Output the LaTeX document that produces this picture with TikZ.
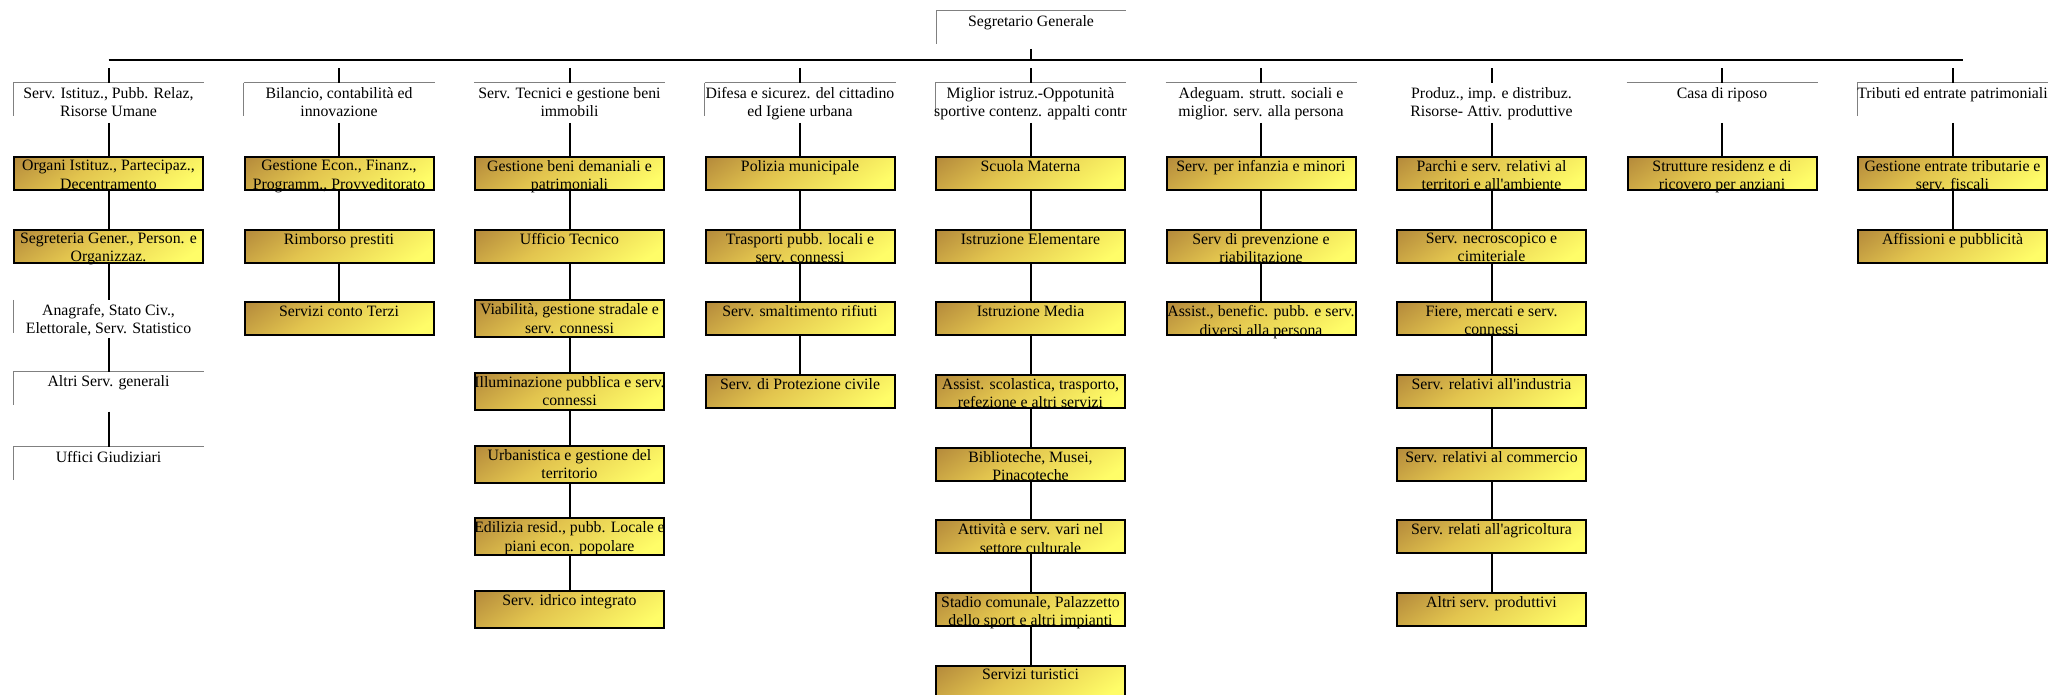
\documentclass[tikz,border=0pt]{standalone}
\usepackage{fontspec}
\setmainfont{Liberation Serif}
\usetikzlibrary{positioning}
\definecolor{boxbrown}{RGB}{154,104,48}
\definecolor{boxgold}{RGB}{226,196,78}
\definecolor{boxyellow}{RGB}{255,253,104}
\pgfdeclareverticalshading{boxgrad}{100bp}{color(0bp)=(boxyellow); color(22bp)=(boxyellow); color(58bp)=(boxgold); color(100bp)=(boxbrown)}

\begin{document}
\begin{tikzpicture}[x=1pt,y=1pt,line width=2pt,on grid,node distance=72.67pt and 230.5pt,
                    font=\fontsize{15.8}{18.2}\selectfont]
  \tikzstyle{ybox}=[draw=black,shade,shading=boxgrad,shading angle=35,
                    minimum width=189pt,minimum height=33pt,inner sep=0pt]
  \tikzstyle{tall}=[minimum height=37pt]
  \tikzstyle{wbox}=[minimum width=189pt,minimum height=38pt,inner sep=0pt]
  \tikzstyle{hline}=[draw=gray,line width=1pt]
  \tikzstyle{topline}=[append after command={\pgfextra{\let\hdnode\tikzlastnode}
                        (\hdnode.north west) edge[hline] (\hdnode.north east)}]
  \tikzstyle{leftline}=[append after command={\pgfextra{\let\hdnode\tikzlastnode}
                        (\hdnode.north west) edge[hline] ([yshift=-33pt]\hdnode.north west)}]
  \tikzstyle{txt}=[anchor=north,yshift=-3.5pt,inner sep=0pt,align=center]

  \useasboundingbox (0,0) rectangle (2054,694);

  % top of the chart
  \node[wbox,topline,leftline,minimum width=188pt,minimum height=36pt,
        label={[txt]north:Segretario Generale}] (S) at (1031,664) {};
  \coordinate (barL) at (108.5,634);
  \coordinate (barR) at (1963,634);
  \coordinate (stub) at (0,626);

  % areas
  \node[wbox,topline,leftline,label={[txt]north:Serv. Istituz., Pubb. Relaz,\\Risorse Umane}]
        (A) at (108.5,591) {};
  \node[wbox,topline,leftline,label={[txt]north:Bilancio, contabilità ed\\innovazione}]
        (B) [right=of A] {};
  \node[wbox,topline,label={[txt]north:Serv. Tecnici e gestione beni\\immobili}]
        (C) [right=of B] {};
  \node[wbox,topline,leftline,label={[txt]north:Difesa e sicurez. del cittadino\\ed Igiene urbana}]
        (D) [right=of C] {};
  \node[wbox,topline,leftline,label={[txt]north:Miglior istruz.-Oppotunità\\sportive contenz. appalti contr}]
        (E) [right=of D] {};
  \node[wbox,topline,label={[txt]north:Adeguam. strutt. sociali e\\miglior. serv. alla persona}]
        (F) [right=of E] {};
  \node[wbox,label={[txt]north:Produz., imp. e distribuz.\\Risorse- Attiv. produttive}]
        (G) [right=of F] {};
  \node[wbox,topline,label={[txt]north:Casa di riposo}]
        (H) [right=of G] {};
  \node[wbox,topline,leftline,label={[txt]north:Tributi ed entrate patrimoniali}]
        (I) [right=of H] {};

  % column 1
  \node[ybox,label={[txt]north:Organi Istituz., Partecipaz.,\\Decentramento}]
        (AA) [below=70.5pt of A] {};
  \node[ybox,label={[txt]north:Segreteria Gener., Person. e\\Organizzaz.}]
        (AB) [below=of AA] {};
  \node[wbox,leftline,minimum height=36pt,label={[txt]north:Anagrafe, Stato Civ.,\\Elettorale, Serv. Statistico}]
        (AC) [below=of AB] {};
  \node[wbox,topline,leftline,label={[txt]north:Altri Serv. generali}]
        (AD) [below=of AC] {};
  \node[wbox,topline,leftline,minimum height=33pt,label={[txt]north:Uffici Giudiziari}]
        (AE) [below=of AD] {};

  % column 2
  \node[ybox,label={[txt]north:Gestione Econ., Finanz.,\\Programm., Provveditorato}]
        (BA) [below=70.5pt of B] {};
  \node[ybox,label={[txt]north:Rimborso prestiti}]       (BB) [below=of BA] {};
  \node[ybox,label={[txt]north:Servizi conto Terzi}]     (BC) [below=of BB] {};

  % column 3
  \node[ybox,label={[txt]north:Gestione beni demaniali e\\patrimoniali}]
        (CA) [below=70.5pt of C] {};
  \node[ybox,label={[txt]north:Ufficio Tecnico}]         (CB) [below=of CA] {};
  \node[ybox,tall,label={[txt]north:Viabilità, gestione stradale e\\serv. connessi}]
        (CC) [below=of CB] {};
  \node[ybox,tall,label={[txt]north:Illuminazione pubblica e serv.\\connessi}]
        (CD) [below=of CC] {};
  \node[ybox,tall,label={[txt]north:Urbanistica e gestione del\\territorio}]
        (CE) [below=of CD] {};
  \node[ybox,tall,label={[txt]north:Edilizia resid., pubb. Locale e\\piani econ. popolare}]
        (CF) [below=of CE] {};
  \node[ybox,tall,label={[txt]north:Serv. idrico integrato}] (CG) [below=of CF] {};

  % column 4
  \node[ybox,label={[txt]north:Polizia municipale}]      (DA) [below=70.5pt of D] {};
  \node[ybox,label={[txt]north:Trasporti pubb. locali e\\serv. connessi}]
        (DB) [below=of DA] {};
  \node[ybox,label={[txt]north:Serv. smaltimento rifiuti}] (DC) [below=of DB] {};
  \node[ybox,label={[txt]north:Serv. di Protezione civile}] (DD) [below=of DC] {};

  % column 5
  \node[ybox,label={[txt]north:Scuola Materna}]          (EA) [below=70.5pt of E] {};
  \node[ybox,label={[txt]north:Istruzione Elementare}]   (EB) [below=of EA] {};
  \node[ybox,label={[txt]north:Istruzione Media}]        (EC) [below=of EB] {};
  \node[ybox,label={[txt]north:Assist. scolastica, trasporto,\\refezione e altri servizi}]
        (ED) [below=of EC] {};
  \node[ybox,label={[txt]north:Biblioteche, Musei,\\Pinacoteche}]
        (EE) [below=of ED] {};
  \node[ybox,label={[txt]north:Attività e serv. vari nel\\settore culturale}]
        (EF) [below=of EE] {};
  \node[ybox,label={[txt]north:Stadio comunale, Palazzetto\\dello sport e altri impianti}]
        (EG) [below=of EF] {};
  \node[ybox,label={[txt]north:Servizi turistici}]       (EH) [below=of EG] {};

  % column 6
  \node[ybox,label={[txt]north:Serv. per infanzia e minori}] (FA) [below=70.5pt of F] {};
  \node[ybox,label={[txt]north:Serv di prevenzione e\\riabilitazione}]
        (FB) [below=of FA] {};
  \node[ybox,label={[txt]north:Assist., benefic. pubb. e serv.\\diversi alla persona}]
        (FC) [below=of FB] {};

  % column 7
  \node[ybox,label={[txt]north:Parchi e serv. relativi al\\territori e all\textquotesingle ambiente}]
        (GA) [below=70.5pt of G] {};
  \node[ybox,label={[txt]north:Serv. necroscopico e\\cimiteriale}]
        (GB) [below=of GA] {};
  \node[ybox,label={[txt]north:Fiere, mercati e serv.\\connessi}]
        (GC) [below=of GB] {};
  \node[ybox,label={[txt]north:Serv. relativi all\textquotesingle industria}] (GD) [below=of GC] {};
  \node[ybox,label={[txt]north:Serv. relativi al commercio}]  (GE) [below=of GD] {};
  \node[ybox,label={[txt]north:Serv. relati all\textquotesingle agricoltura}] (GF) [below=of GE] {};
  \node[ybox,label={[txt]north:Altri serv. produttivi}]       (GG) [below=of GF] {};

  % column 8
  \node[ybox,label={[txt]north:Strutture residenz e di\\ricovero per anziani}]
        (HA) [below=70.5pt of H] {};

  % column 9
  \node[ybox,label={[txt]north:Gestione entrate tributarie e\\serv. fiscali}]
        (IA) [below=70.5pt of I] {};
  \node[ybox,label={[txt]north:Affissioni e pubblicità}] (IB) [below=of IA] {};

  % connectors
  \draw (barL) -- (barR);
  \draw (S) -- (S |- barL);
  \foreach \h in {A,B,C,D,E,F,G,H,I}
    \draw (\h.north) -- (\h.north |- stub);

  \path (A)  edge (AA)
        (AA) edge (AB)
        (AB) edge (AC)
        (AC) edge (AD)
        (AD) edge (AE)
        (B)  edge (BA)
        (BA) edge (BB)
        (BB) edge (BC)
        (C)  edge (CA)
        (CA) edge (CB)
        (CB) edge (CC)
        (CC) edge (CD)
        (CD) edge (CE)
        (CE) edge (CF)
        (CF) edge (CG)
        (D)  edge (DA)
        (DA) edge (DB)
        (DB) edge (DC)
        (DC) edge (DD)
        (E)  edge (EA)
        (EA) edge (EB)
        (EB) edge (EC)
        (EC) edge (ED)
        (ED) edge (EE)
        (EE) edge (EF)
        (EF) edge (EG)
        (EG) edge (EH)
        (F)  edge (FA)
        (FA) edge (FB)
        (FB) edge (FC)
        (G)  edge (GA)
        (GA) edge (GB)
        (GB) edge (GC)
        (GC) edge (GD)
        (GD) edge (GE)
        (GE) edge (GF)
        (GF) edge (GG)
        (H)  edge (HA)
        (I)  edge (IA)
        (IA) edge (IB);
\end{tikzpicture}
\end{document}
